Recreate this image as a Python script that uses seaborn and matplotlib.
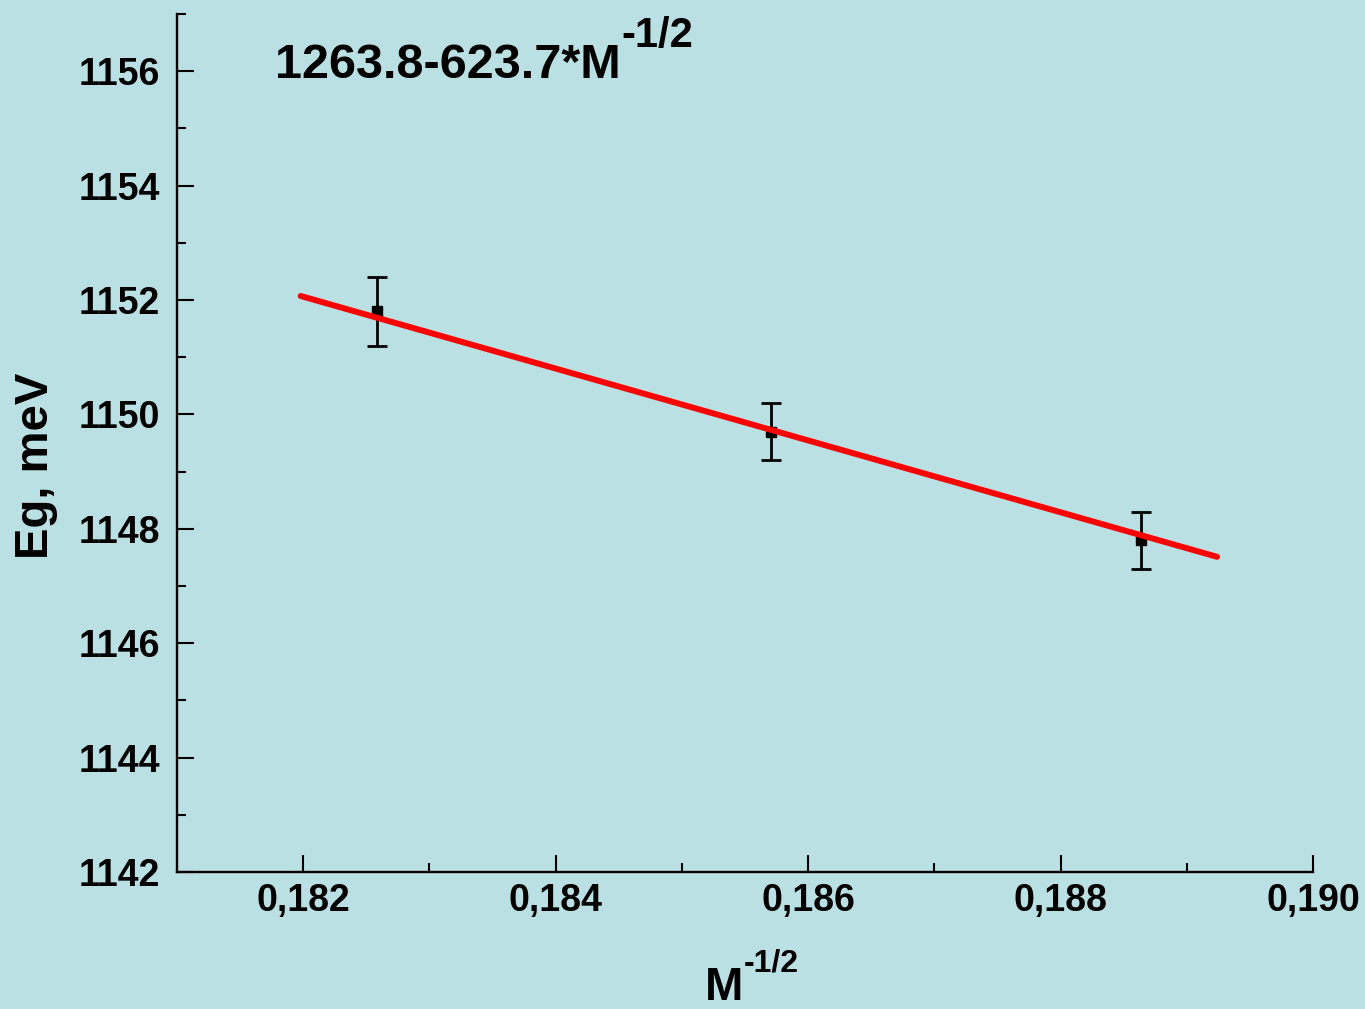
import numpy as np
import pandas as pd
import matplotlib
matplotlib.use("Agg")
import matplotlib.pyplot as plt
from matplotlib.ticker import FuncFormatter
import seaborn as sns

# data
m_half = [0.182585, 0.185703, 0.188638]   # M^-1/2
eg = [1151.8, 1149.7, 1147.8]             # Eg, meV
eg_err = [0.6, 0.5, 0.5]
fit_x = [0.18198, 0.18924]
fit_y = [1152.07, 1147.51]

x_major = [0.182, 0.184, 0.186, 0.188, 0.190]
x_minor = [0.183, 0.185, 0.187, 0.189]
y_major = [1142, 1144, 1146, 1148, 1150, 1152, 1154, 1156]
y_minor = [1143, 1145, 1147, 1149, 1151, 1153, 1155, 1157]

bg = "#bae0e3"
sns.set_style("ticks", {"axes.facecolor": bg, "figure.facecolor": bg})
plt.rcParams['font.family'] = ['Liberation Sans Narrow', 'Liberation Sans', 'DejaVu Sans']
plt.rcParams['font.weight'] = 'bold'
plt.rcParams['axes.labelweight'] = 'bold'
plt.rcParams['text.color'] = 'black'
plt.rcParams['axes.labelcolor'] = 'black'
plt.rcParams['xtick.color'] = 'black'
plt.rcParams['ytick.color'] = 'black'

fig = plt.figure(figsize=(13.65, 10.09), dpi=100)
ax = fig.add_axes([177/1365, 1-872/1009, 1136/1365, 858/1009])

df = pd.DataFrame({"x": fit_x, "y": fit_y})
sns.lineplot(data=df, x="x", y="y", color="red", lw=4.3, ax=ax, zorder=4,
             solid_capstyle="round")
ax.errorbar(m_half, eg, yerr=eg_err, fmt="s", color="black", ms=6.5,
            elinewidth=2, capsize=7.5, capthick=2, zorder=3)

ax.set_xlim(0.181, 0.190)
ax.set_ylim(1142, 1157)
ax.set_xticks(x_major)
ax.set_xticks(x_minor, minor=True)
ax.set_yticks(y_major)
ax.set_yticks(y_minor, minor=True)
ax.xaxis.set_major_formatter(FuncFormatter(lambda v, p: f"{v:.3f}".replace(".", ",")))
ax.yaxis.set_major_formatter(FuncFormatter(lambda v, p: f"{v:.0f}"))

ax.tick_params(which="both", direction="in", width=1.5, color="black",
               labelcolor="black", top=False, right=False, labelsize=27)
ax.tick_params(which="major", length=12)
ax.tick_params(which="minor", length=6.5)
ax.tick_params(axis="y", pad=12)
ax.tick_params(axis="x", pad=8)

for s in ["top", "right"]:
    ax.spines[s].set_visible(False)
for s in ["left", "bottom"]:
    ax.spines[s].set_linewidth(1.7)
    ax.spines[s].set_color("black")

# axis labels
ax.set_ylabel("Eg, meV", fontsize=34, color="black")
ylab = ax.yaxis.label
ylab.set_rotation_mode("default")
ylab.set_va("center")
ylab.set_ha("center")
ax.yaxis.set_label_coords(-0.124, 0.4732)

ax.set_xlabel("M", fontsize=33, color="black")
xlab = ax.xaxis.label
xlab.set_ha("left")
xlab.set_va("baseline")
ax.xaxis.set_label_coords(0.4648, -0.1492)
ax.annotate("-1/2", xy=(1, -0.1160), xycoords=(xlab, ax.transAxes),
            fontsize=23, fontweight="bold", va="baseline", ha="left",
            color="black")

# fit formula
t = ax.text(0.18178, 1155.88, "1263.8-623.7*M", fontsize=35,
            fontweight="bold", va="baseline", ha="left", color="black")
ax.annotate("-1/2", xy=(1, 1156.42), xycoords=(t, "data"),
            fontsize=30, fontweight="bold", va="baseline", ha="left",
            color="black")

fig.savefig("out.png", dpi=100, facecolor=bg)
